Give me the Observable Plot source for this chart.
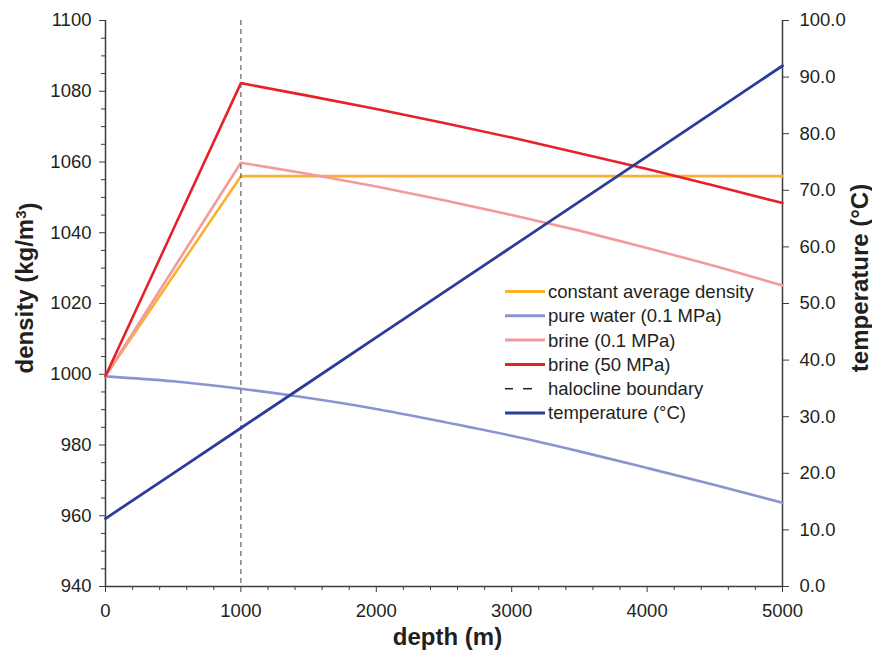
<!DOCTYPE html>
<html>
<head>
<meta charset="utf-8">
<script src="https://cdn.jsdelivr.net/npm/d3@7"></script>
<script src="https://cdn.jsdelivr.net/npm/@observablehq/plot@0.6"></script>
<style>
  html, body { margin: 0; padding: 0; background: #fff; }
</style>
</head>
<body>
<div id="chart"></div>
<script>
// ---- data ----
const depth = [0, 500, 1000, 1500, 2000, 2500, 3000, 3500, 4000, 4500, 5000];
const constantDensity = [999.5, 1027.8, 1056.0, 1056.0, 1056.0, 1056.0, 1056.0, 1056.0, 1056.0, 1056.0, 1056.0];
const pureWater = [999.4, 998.0, 995.9, 993.3, 990.2, 986.5, 982.6, 978.2, 973.5, 968.7, 963.7];
const brineLow = [999.5, 1029.7, 1059.8, 1056.6, 1053.1, 1049.2, 1045.0, 1040.6, 1035.7, 1030.6, 1025.1];
const brineHigh = [999.5, 1040.9, 1082.3, 1078.7, 1075.0, 1071.0, 1066.9, 1062.5, 1058.0, 1053.3, 1048.4];
const temperature = [12, 20, 28, 36, 44, 52, 60, 68, 76, 84, 92];
const haloclineDepth = [1000];

const densityTicks = [940, 960, 980, 1000, 1020, 1040, 1060, 1080, 1100];
const densityMinorTicks = d3.range(940, 1101, 5).filter(v => v % 20 !== 0);
const depthTicks = [0, 1000, 2000, 3000, 4000, 5000];
const depthMinorTicks = d3.range(0, 5001, 200).filter(v => v % 1000 !== 0);
const temperatureTicks = [0, 10, 20, 30, 40, 50, 60, 70, 80, 90, 100];

const legendLabels = ["constant average density", "pure water (0.1 MPa)", "brine (0.1 MPa)", "brine (50 MPa)", "halocline boundary", "temperature (°C)"];
const colors = {
  constant: "#f9b12e",
  pure: "#8c94d0",
  brineLow: "#f39b9b",
  brineHigh: "#e6212a",
  halocline: "#6b6b6b",
  temp: "#2b3d97"
};

// temperature (0..100 °C) mapped onto the density axis range (940..1100)
const tempToDensity = t => 940 + t * 1.6;
const densityToTemp = d => (d - 940) / 1.6;

const rows = depth.map((d, i) => ({
  depth: d,
  constant: constantDensity[i],
  pure: pureWater[i],
  brineLow: brineLow[i],
  brineHigh: brineHigh[i],
  temp: temperature[i]
}));

const axisColor = "#3c3c3c";
const textColor = "#231f20";
const font = "'Liberation Sans', Arial, Helvetica, sans-serif";
const tickFont = 18.5;

const W = 872, H = 651;
const mL = 105, mR = 90, mT = 20, mB = 65;

const plot = Plot.plot({
  width: W,
  height: H,
  marginLeft: mL,
  marginRight: mR,
  marginTop: mT,
  marginBottom: mB,
  style: { fontFamily: font, fontSize: tickFont + "px", color: textColor, background: "#fff", overflow: "visible" },
  x: { domain: [0, 5000] },
  y: { domain: [940, 1100] },
  marks: [
    // minor ticks
    Plot.axisY(densityMinorTicks, { anchor: "left", tickSize: 4, tickFormat: () => "", stroke: axisColor, label: null }),
    Plot.axisX(depthMinorTicks, { anchor: "bottom", tickSize: 4, tickFormat: () => "", stroke: axisColor, label: null }),
    // major ticks + labels
    Plot.axisY(densityTicks, { anchor: "left", tickSize: 6, tickPadding: 8, stroke: axisColor, fill: textColor, fontSize: tickFont, label: null, tickFormat: d => String(d) }),
    Plot.axisX(depthTicks, { anchor: "bottom", tickSize: 6, tickPadding: 11, stroke: axisColor, fill: textColor, fontSize: tickFont, label: null, tickFormat: d => String(d) }),
    Plot.axisY(temperatureTicks.map(tempToDensity), { anchor: "right", tickSize: 6, tickPadding: 11, stroke: axisColor, fill: textColor, fontSize: tickFont, label: null, tickFormat: d => densityToTemp(d).toFixed(1) }),
    // axis lines
    Plot.ruleX([0], { stroke: axisColor, strokeWidth: 1.5 }),
    Plot.ruleX([5000], { stroke: axisColor, strokeWidth: 1.5 }),
    Plot.ruleY([940], { stroke: axisColor, strokeWidth: 1.5 }),
    // series
    Plot.line(rows, { x: "depth", y: "constant", stroke: colors.constant, strokeWidth: 2.6 }),
    Plot.line(rows, { x: "depth", y: "pure", stroke: colors.pure, strokeWidth: 2.6, curve: "monotone-x" }),
    Plot.line(rows, { x: "depth", y: "brineLow", stroke: colors.brineLow, strokeWidth: 2.6 }),
    Plot.line(rows, { x: "depth", y: "brineHigh", stroke: colors.brineHigh, strokeWidth: 2.6 }),
    Plot.ruleX(haloclineDepth, { stroke: colors.halocline, strokeWidth: 1.3, strokeDasharray: "5,4" }),
    Plot.line(rows, { x: "depth", y: d => tempToDensity(d.temp), stroke: colors.temp, strokeWidth: 2.8 })
  ]
});

const svg = d3.select(plot);

// axis titles
const titles = svg.append("g")
  .attr("font-family", font)
  .attr("font-weight", "bold")
  .attr("font-size", 24)
  .attr("fill", textColor)
  .attr("text-anchor", "middle");

titles.append("text")
  .attr("x", (mL + (W - mR)) / 2 + 4)
  .attr("y", 645)
  .text("depth (m)");

titles.append("text")
  .attr("transform", "translate(33,288) rotate(-90)")
  .html("density (kg/m<tspan dy='-0.45em' font-size='15'>3</tspan><tspan dy='0.45em'>)</tspan>");

titles.append("text")
  .attr("transform", "translate(868,278) rotate(-90)")
  .text("temperature (°C)");

// legend
const legendColors = [colors.constant, colors.pure, colors.brineLow, colors.brineHigh, null, colors.temp];
const lg = svg.append("g")
  .attr("font-family", font)
  .attr("font-size", 18.5)
  .attr("fill", textColor)
  .attr("text-anchor", "start");

legendLabels.forEach((label, i) => {
  const cy = 291.5 + i * 24.3;
  if (legendColors[i]) {
    lg.append("line")
      .attr("x1", 505).attr("x2", 545)
      .attr("y1", cy).attr("y2", cy)
      .attr("stroke", legendColors[i])
      .attr("stroke-width", 3);
  } else {
    lg.append("line").attr("x1", 505).attr("x2", 513).attr("y1", cy).attr("y2", cy)
      .attr("stroke", "#222").attr("stroke-width", 1.5);
    lg.append("line").attr("x1", 523).attr("x2", 532).attr("y1", cy).attr("y2", cy)
      .attr("stroke", "#222").attr("stroke-width", 1.5);
  }
  lg.append("text")
    .attr("x", 548)
    .attr("y", cy)
    .attr("dy", "0.35em")
    .attr("text-anchor", "start")
    .text(label);
});

document.getElementById("chart").appendChild(plot);
</script>
</body>
</html>
